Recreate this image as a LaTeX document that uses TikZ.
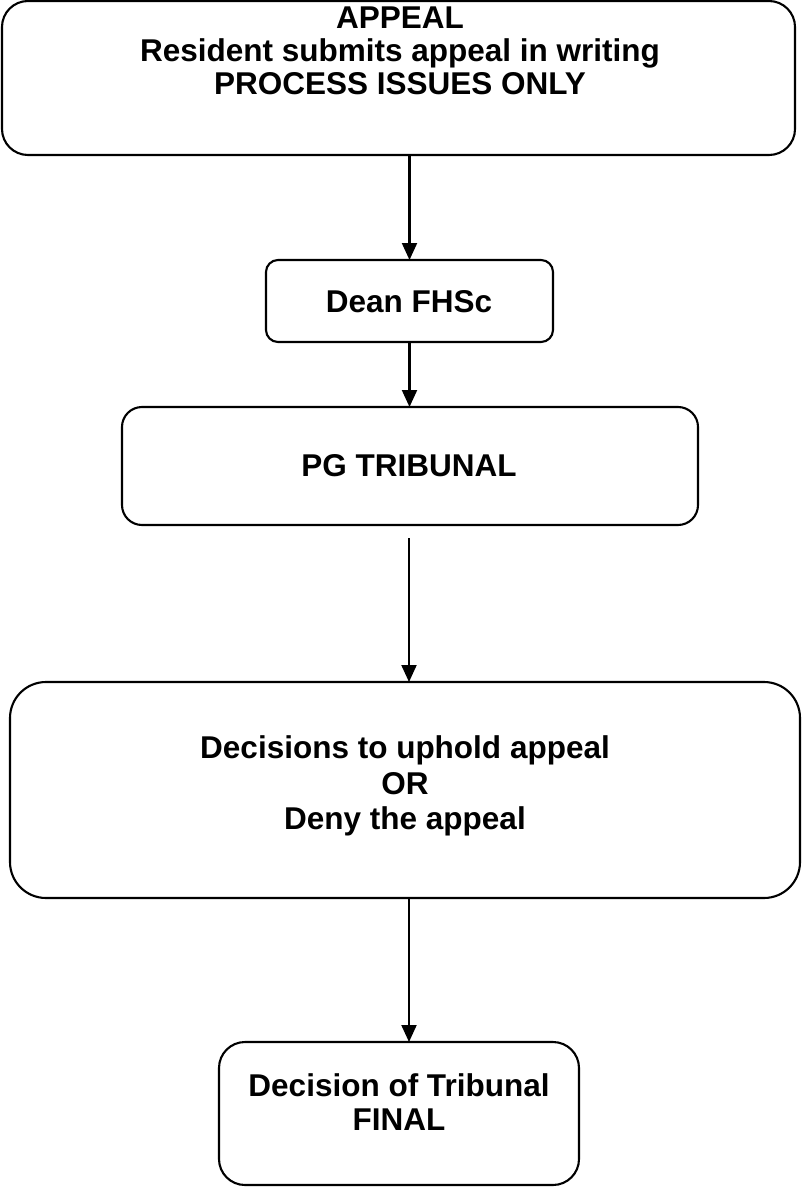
\documentclass[tikz,border=0pt]{standalone}
\usepackage{fontspec}
\setmainfont{Liberation Sans}
\usetikzlibrary{arrows.meta}
\begin{document}
\begin{tikzpicture}[x=1pt,y=-1pt,
  box/.style={draw=black,line width=2.1pt,inner sep=0pt,outer sep=0pt},
  txt/.style={align=center,inner sep=0pt,font=\bfseries\fontsize{31.5}{33}\selectfont},
  flow/.style={line width=2.1pt,-{Triangle[width=15pt,length=17pt]}}]
  \useasboundingbox (0,0) rectangle (803,1188);

  % boxes
  \node[box,rounded corners=26pt,minimum width=793pt,minimum height=154pt] (b1) at (398.5,78) {};
  \node[box,rounded corners=12pt,minimum width=287pt,minimum height=82pt] (b2) at (409.5,301) {};
  \node[box,rounded corners=20pt,minimum width=576pt,minimum height=118pt] (b3) at (410,466) {};
  \node[box,rounded corners=36pt,minimum width=790pt,minimum height=216pt] (b4) at (405,790) {};
  \node[box,rounded corners=26pt,minimum width=360pt,minimum height=143pt] (b5) at (399,1113.5) {};

  % labels
  \node[txt] (t1) at (400,51) {APPEAL\\Resident submits appeal in writing\\PROCESS ISSUES ONLY};
  \node[txt] (t2) at (409,302) {Dean FHSc};
  \node[txt] (t3) at (409,466) {PG TRIBUNAL};
  \node[txt,font=\bfseries\fontsize{31.5}{35.5}\selectfont] (t4) at (405,786) {Decisions to uphold appeal\\OR\\Deny the appeal};
  \node[txt,font=\bfseries\fontsize{31.5}{34}\selectfont] (t5) at (399,1102) {Decision of Tribunal\\FINAL};

  % connectors
  \coordinate (c3) at (409,538);
  \draw[flow] (b1.south -| b2.north) -- (b2.north);
  \draw[flow] (b2.south) -- (b3.north -| b2.south);
  \draw[flow] (c3) -- (b4.north -| c3);
  \draw[flow] (b4.south -| c3) -- (b5.north -| c3);
\end{tikzpicture}
\end{document}
